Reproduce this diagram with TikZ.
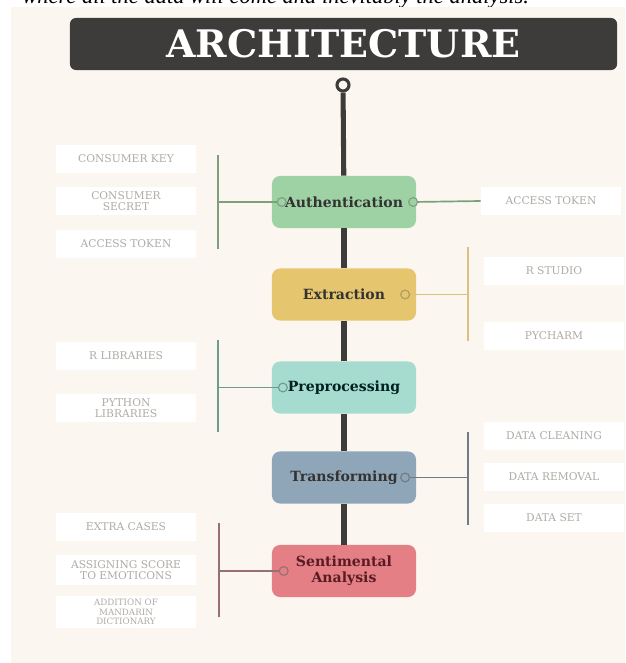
\documentclass[tikz,border=0pt]{standalone}
\usepackage{fontspec}
\setmainfont{Liberation Serif}
\newfontfamily\slabfont{DejaVu Serif}
\usetikzlibrary{positioning}
\definecolor{bgcream}{HTML}{FBF7F0}
\definecolor{titlecol}{HTML}{3E3C3A}
\definecolor{spinecol}{HTML}{3E3C3A}
\definecolor{tagtext}{HTML}{AFABA6}
\definecolor{authcol}{HTML}{9ED2A4}
\definecolor{authline}{HTML}{7E9E7C}
\definecolor{extrcol}{HTML}{E6C56F}
\definecolor{extrline}{HTML}{D8C27E}
\definecolor{prepcol}{HTML}{A6DCD0}
\definecolor{prepline}{HTML}{6F9A8E}
\definecolor{transcol}{HTML}{8FA6B8}
\definecolor{transline}{HTML}{6F7C88}
\definecolor{sentcol}{HTML}{E37F85}
\definecolor{sentline}{HTML}{977072}
\definecolor{senttext}{HTML}{5A1C22}

\begin{document}
\begin{tikzpicture}[
x=0.025cm,y=-0.025cm,
title/.style={fill=titlecol,rounded corners=1.5mm,minimum width=13.675cm,minimum height=1.3cm,text=white,font=\slabfont\bfseries\fontsize{27}{30}\selectfont},
stage/.style={rounded corners=2mm,minimum width=3.6cm,minimum height=1.3cm,align=center,text=black!80,font=\slabfont\bfseries\fontsize{10}{11.5}\selectfont},
tag/.style={fill=white,minimum width=3.5cm,minimum height=0.68cm,align=center,inner sep=1pt,text=tagtext,font=\slabfont\fontsize{7.6}{8}\selectfont},
port/.style={circle,draw,fill=#1,line width=0.8pt,inner sep=0pt,minimum size=2.2mm},
spine/.style={draw=spinecol,line width=3.6pt},
branch/.style={line width=1.2pt}
]
\useasboundingbox (0,0) rectangle (625,663);
\begin{scope}
\clip (0,0) rectangle (625,7.5);
\node[anchor=base west,inner sep=0pt,font=\itshape\fontsize{16}{18}\selectfont] (topline) at (22,4) {where all the data will come and inevitably the analysis.};
\end{scope}
\fill[bgcream] (11,7.5) rectangle (625,663);

\node[title] (head) at (343.5,44) {ARCHITECTURE};
\node[circle,draw=spinecol,fill=bgcream,line width=2.2pt,inner sep=0pt,minimum size=3mm] (knob) at (343,85) {};

\node[stage,fill=authcol] (auth) at (344,202) {Authentication};
\node[stage,fill=extrcol] (extr) at (344,294.5) {Extraction};
\node[stage,fill=prepcol,text=black!75!teal] (prep) at (344,387.5) {Preprocessing};
\node[stage,fill=transcol] (trans) at (344,477.5) {Transforming};
\node[stage,fill=sentcol,text=senttext] (sent) at (344,571) {Sentimental\\Analysis};

\draw[spine] (knob) -- (auth);
\draw[spine] (auth) -- (extr);
\draw[spine] (extr) -- (prep);
\draw[spine] (prep) -- (trans);
\draw[spine] (trans) -- (sent);

\node[tag] (ckey) at (126,159) {CONSUMER KEY};
\node[tag,minimum height=0.72cm] (csecret) at (126,201) {CONSUMER\\SECRET};
\node[tag] (atokl) at (126,244) {ACCESS TOKEN};
\node[tag] (atokr) at (551,201) {ACCESS TOKEN};
\node[tag] (rstudio) at (554,271) {R STUDIO};
\node[tag] (pycharm) at (554,336) {PYCHARM};
\node[tag] (rlib) at (126,356) {R LIBRARIES};
\node[tag,minimum height=0.72cm] (pylib) at (126,408) {PYTHON\\LIBRARIES};
\node[tag] (dclean) at (554,436) {DATA CLEANING};
\node[tag] (dremove) at (554,477) {DATA REMOVAL};
\node[tag] (dset) at (554,518) {DATA SET};
\node[tag] (extra) at (126,527) {EXTRA CASES};
\node[tag,minimum height=0.75cm] (score) at (126,570) {ASSIGNING SCORE\\TO EMOTICONS};
\node[tag,minimum height=0.8cm,font=\slabfont\fontsize{6.2}{6.6}\selectfont] (mandarin) at (126,612) {ADDITION OF\\MANDARIN\\DICTIONARY};

\coordinate (authbar) at (218,202);
\coordinate (authtop) at (218,155);
\coordinate (authbot) at (218,249);
\coordinate (extrbar) at (468,294.5);
\coordinate (extrtop) at (468,247);
\coordinate (extrbot) at (468,341);
\coordinate (prepbar) at (218,387.5);
\coordinate (preptop) at (218,340);
\coordinate (prepbot) at (218,432);
\coordinate (transbar) at (468,477.5);
\coordinate (transtop) at (468,432);
\coordinate (transbot) at (468,525);
\coordinate (sentbar) at (219,571);
\coordinate (senttop) at (219,523);
\coordinate (sentbot) at (219,617);

\draw[branch,authline] (authtop) -- (authbot);
\draw[branch,authline] (authbar) -- ([xshift=0.25cm]auth.west);
\draw[branch,authline] ([xshift=-0.08cm]auth.east) -- (atokr.west);
\node[port=authcol,draw=authline] (authl) at ([xshift=0.25cm]auth.west) {};
\node[port=authcol,draw=authline] (authr) at ([xshift=-0.08cm]auth.east) {};

\draw[branch,extrline] (extrtop) -- (extrbot);
\draw[branch,extrline] ([xshift=-0.28cm]extr.east) -- (extrbar);
\node[port=extrcol,draw=extrline!80!black] (extrr) at ([xshift=-0.28cm]extr.east) {};

\draw[branch,prepline] (preptop) -- (prepbot);
\draw[branch,prepline] (prepbar) -- ([xshift=0.28cm]prep.west);
\node[port=prepcol,draw=prepline] (prepl) at ([xshift=0.28cm]prep.west) {};

\draw[branch,transline] (transtop) -- (transbot);
\draw[branch,transline] ([xshift=-0.28cm]trans.east) -- (transbar);
\node[port=transcol,draw=transline] (transr) at ([xshift=-0.28cm]trans.east) {};

\draw[branch,sentline] (senttop) -- (sentbot);
\draw[branch,sentline] (sentbar) -- ([xshift=0.3cm]sent.west);
\node[port=sentcol,draw=sentline] (sentl) at ([xshift=0.3cm]sent.west) {};
\end{tikzpicture}
\end{document}
